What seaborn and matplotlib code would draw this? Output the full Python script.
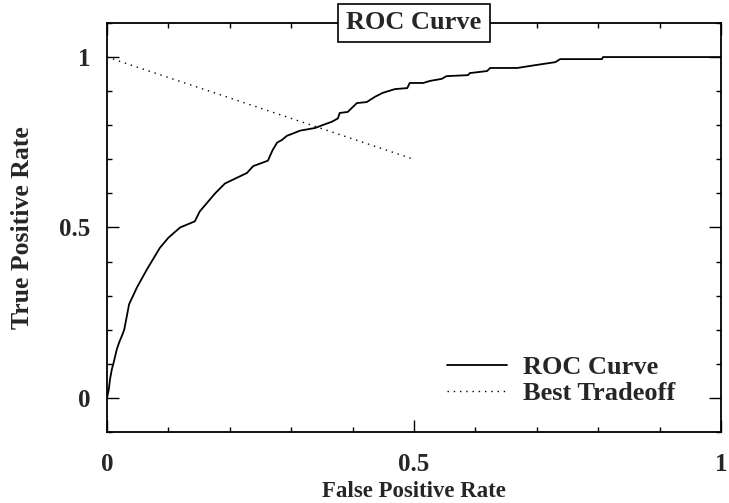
import numpy as np
import pandas as pd
import matplotlib
matplotlib.use("Agg")
import matplotlib.pyplot as plt
import seaborn as sns
from matplotlib.ticker import MultipleLocator

# ROC curve points
fpr = [0, 0.003, 0.005, 0.008, 0.011, 0.016, 0.020, 0.024, 0.028, 0.036, 0.049,
       0.065, 0.086, 0.100, 0.119, 0.143, 0.151, 0.176, 0.192, 0.228, 0.238,
       0.262, 0.270, 0.277, 0.285, 0.293, 0.306, 0.314, 0.339, 0.352, 0.366,
       0.376, 0.379, 0.392, 0.407, 0.423, 0.436, 0.449, 0.469, 0.489, 0.493,
       0.515, 0.526, 0.545, 0.553, 0.588, 0.591, 0.619, 0.624, 0.668, 0.700,
       0.730, 0.738, 0.806, 0.808, 1.0]
tpr = [0, 0.026, 0.056, 0.085, 0.105, 0.143, 0.164, 0.181, 0.200, 0.275, 0.325,
       0.377, 0.440, 0.470, 0.500, 0.518, 0.547, 0.600, 0.629, 0.660, 0.680,
       0.696, 0.728, 0.749, 0.757, 0.769, 0.778, 0.784, 0.792, 0.801, 0.810,
       0.820, 0.836, 0.839, 0.865, 0.868, 0.883, 0.895, 0.906, 0.909, 0.924,
       0.924, 0.930, 0.936, 0.944, 0.947, 0.953, 0.959, 0.968, 0.968, 0.977,
       0.985, 0.994, 0.994, 1.0, 1.0]

# best tradeoff line
trade_x = [0.0, 0.5]
trade_y = [1.0, 0.7]

sns.set_style("ticks")
plt.rcParams['font.family'] = ['Liberation Serif', 'DejaVu Serif']
plt.rcParams['font.weight'] = 'bold'

fig = plt.figure(figsize=(7.29, 5.03), dpi=100)
ax = fig.add_axes([0.1468, 0.1412, 0.989 - 0.1468, 0.9543 - 0.1412])

roc_df = pd.DataFrame({'fpr': fpr, 'tpr': tpr})
trade_df = pd.DataFrame({'x': trade_x, 'y': trade_y})

sns.lineplot(data=roc_df, x='fpr', y='tpr', sort=False, color='black',
             linewidth=1.3, ax=ax, label='ROC Curve')
sns.lineplot(data=trade_df, x='x', y='y', sort=False, color='black',
             linewidth=1.0, dashes=False, ax=ax, label='Best Tradeoff')
ax.lines[1].set_dashes((1, 3.5))

ax.set_xlim(0, 1)
ax.set_ylim(-0.1, 1.1)
ax.set_xticks([0, 0.5, 1])
ax.set_xticklabels(['0', '0.5', '1'])
ax.set_yticks([0, 0.5, 1])
ax.set_yticklabels(['0', '0.5', '1'])
ax.xaxis.set_minor_locator(MultipleLocator(0.1))
ax.yaxis.set_minor_locator(MultipleLocator(0.1))
ax.tick_params(which='both', direction='in', top=True, right=True,
               color='black', width=1.0)
ax.tick_params(which='major', length=8.6, labelsize=18)
ax.tick_params(axis='x', which='major', pad=15)
ax.tick_params(axis='y', which='major', pad=12)
ax.tick_params(which='minor', length=3.6)
for s in ax.spines.values():
    s.set_visible(True)
    s.set_color('black')
    s.set_linewidth(1.3)

ax.set_xlabel('False Positive Rate', fontsize=16.5, fontweight='bold', labelpad=4)
ax.set_ylabel('True Positive Rate', fontsize=18.5, fontweight='bold', labelpad=18)

ax.text(0.5, 1.0, 'ROC Curve', transform=ax.transAxes, ha='center', va='center',
        fontsize=19, fontweight='bold',
        bbox=dict(boxstyle='square,pad=0.3', facecolor='white', edgecolor='black',
                  linewidth=1.2))

leg = ax.legend(loc='lower right', bbox_to_anchor=(0.942, 0.039), borderaxespad=0,
                frameon=False, fontsize=19, handlelength=2.3,
                handletextpad=0.58, labelspacing=0.12)
for t in leg.get_texts():
    t.set_fontweight('bold')

fig.savefig('out.png', dpi=100)
